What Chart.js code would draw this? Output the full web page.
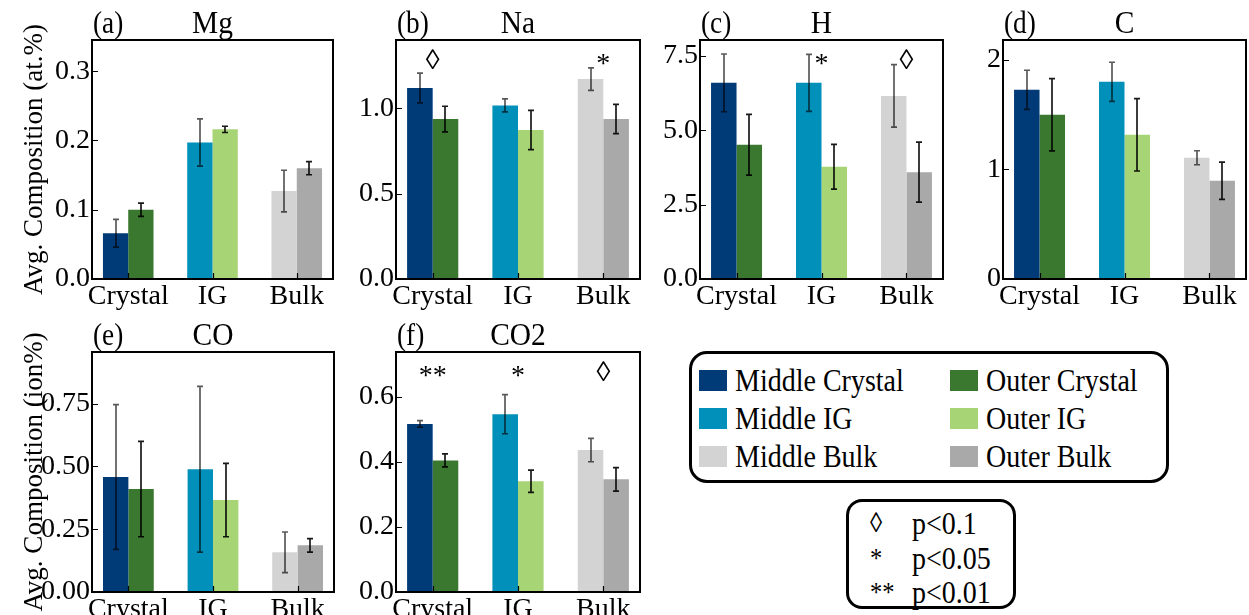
<!DOCTYPE html>
<html>
<head>
<meta charset="utf-8">
<script src="https://cdn.jsdelivr.net/npm/chart.js@4.4.1/dist/chart.umd.min.js"></script>
<style>
  body { margin: 0; background: #fff; width: 1249px; height: 615px; overflow: hidden; position: relative; font-family: "Liberation Serif", "Times New Roman", serif; }
  canvas { position: absolute; }
  .box { position: absolute; border: 3px solid #000; background: #fff; }
  .item { position: absolute; height: 36px; line-height: 36px; font-size: 32px; white-space: nowrap; color: #000; transform: scaleX(0.875); transform-origin: 0 50%; }
  .sw { position: absolute; width: 28px; height: 21px; }
</style>
</head>
<body>
<canvas id="pa" width="340" height="310" style="left:0;top:0"></canvas>
<canvas id="pb" width="308" height="310" style="left:340px;top:0"></canvas>
<canvas id="pc" width="299" height="310" style="left:650px;top:0"></canvas>
<canvas id="pd" width="300" height="310" style="left:949px;top:0"></canvas>
<canvas id="pe" width="340" height="305" style="left:0;top:310px"></canvas>
<canvas id="pf" width="308" height="305" style="left:340px;top:310px"></canvas>
<div class="box" id="legend" style="left:689px;top:351px;width:474px;height:126px;border-radius:18px"></div>
<div class="box" id="sigbox" style="left:846px;top:499px;width:164px;height:104px;border-radius:16px"></div>
<script>
// categories and series
const categories = ['Crystal', 'IG', 'Bulk'];
const seriesNames = ['Middle Crystal', 'Outer Crystal', 'Middle IG', 'Outer IG', 'Middle Bulk', 'Outer Bulk'];
const middleColors = ['#003a77', '#0090b9', '#d3d3d3'];
const outerColors = ['#3a7830', '#a7d475', '#a9a9a9'];

// (a) Mg
const mgMiddle = [0.066, 0.197, 0.127];
const mgMiddleErr = [0.020, 0.034, 0.030];
const mgOuter = [0.100, 0.216, 0.160];
const mgOuterErr = [0.0095, 0.0045, 0.0095];
const mgTicks = [0, 0.1, 0.2, 0.3];
const mgTickLabels = ['0.0', '0.1', '0.2', '0.3'];

// (b) Na
const naMiddle = [1.119, 1.017, 1.171];
const naMiddleErr = [0.087, 0.038, 0.066];
const naOuter = [0.937, 0.873, 0.937];
const naOuterErr = [0.075, 0.115, 0.086];
const naTicks = [0, 0.5, 1.0];
const naTickLabels = ['0.0', '0.5', '1.0'];
const naMarks = ['◊', '', '*'];

// (c) H
const hMiddle = [6.59, 6.59, 6.15];
const hMiddleErr = [0.97, 0.96, 1.05];
const hOuter = [4.51, 3.77, 3.59];
const hOuterErr = [1.02, 0.75, 1.01];
const hTicks = [0, 2.5, 5.0, 7.5];
const hTickLabels = ['0.0', '2.5', '5.0', '7.5'];
const hMarks = ['', '*', '◊'];

// (d) C
const cMiddle = [1.726, 1.799, 1.106];
const cMiddleErr = [0.178, 0.178, 0.064];
const cOuter = [1.498, 1.315, 0.896];
const cOuterErr = [0.33, 0.33, 0.17];
const cTicks = [0, 1, 2];
const cTickLabels = ['0', '1', '2'];

// (e) CO
const coMiddle = [0.458, 0.489, 0.158];
const coMiddleErr = [0.288, 0.33, 0.081];
const coOuter = [0.410, 0.366, 0.186];
const coOuterErr = [0.19, 0.146, 0.027];
const coTicks = [0, 0.25, 0.5, 0.75];
const coTickLabels = ['0.00', '0.25', '0.50', '0.75'];

// (f) CO2
const co2Middle = [0.516, 0.546, 0.436];
const co2MiddleErr = [0.010, 0.060, 0.036];
const co2Outer = [0.404, 0.340, 0.346];
const co2OuterErr = [0.020, 0.034, 0.036];
const co2Ticks = [0, 0.2, 0.4, 0.6];
const co2TickLabels = ['0.0', '0.2', '0.4', '0.6'];
const co2Marks = ['**', '*', '◊'];

// significance legend
const sigSymbols = ['◊', '*', '**'];
const sigLabels = ['p<0.1', 'p<0.05', 'p<0.01'];

const FONT = '"Liberation Serif", "Times New Roman", serif';
const TICK_SIZE = 28;

// text a bit narrower than the font's own width, like the reference
function narrowText(ctx, s, x, y, sx) {
  ctx.save();
  ctx.translate(x, y);
  ctx.scale(sx, 1);
  ctx.fillText(s, 0, 0);
  ctx.restore();
}

// draws error bars, frame, inward ticks, titles and significance marks
const decor = {
  id: 'decor',
  afterDatasetsDraw(chart) {
    const ctx = chart.ctx, ys = chart.scales.y;
    chart.data.datasets.forEach((ds, di) => {
      const meta = chart.getDatasetMeta(di);
      ctx.save();
      ctx.strokeStyle = ds.errColor;
      ctx.lineWidth = 1.7;
      meta.data.forEach((bar, i) => {
        const v = ds.data[i].y, e = ds.errors[i];
        const x = Math.round(bar.x);
        const y1 = ys.getPixelForValue(v + e), y2 = ys.getPixelForValue(v - e);
        ctx.beginPath();
        ctx.moveTo(x, y1); ctx.lineTo(x, y2);
        ctx.moveTo(x - 3, y1); ctx.lineTo(x + 3, y1);
        ctx.moveTo(x - 3, y2); ctx.lineTo(x + 3, y2);
        ctx.stroke();
      });
      ctx.restore();
    });
  },
  afterDraw(chart, args, opts) {
    const ctx = chart.ctx, ca = chart.chartArea, xs = chart.scales.x, ys = chart.scales.y;
    ctx.save();
    ctx.strokeStyle = '#000';
    ctx.lineWidth = 1.2;
    ctx.beginPath();
    ys.ticks.forEach(t => {
      const y = Math.round(ys.getPixelForValue(t.value)) + 0.5;
      ctx.moveTo(ca.left, y); ctx.lineTo(ca.left + 6, y);
    });
    xs.ticks.forEach(t => {
      const x = Math.round(xs.getPixelForValue(t.value)) + 0.5;
      ctx.moveTo(x, ca.bottom); ctx.lineTo(x, ca.bottom - 6);
    });
    ctx.stroke();
    ctx.lineWidth = 2;
    ctx.strokeRect(ca.left, ca.top, ca.right - ca.left, ca.bottom - ca.top);

    ctx.fillStyle = '#000';
    ctx.font = '31px ' + FONT;
    ctx.textBaseline = 'alphabetic';
    ctx.textAlign = 'left';
    narrowText(ctx, opts.tag, ca.left + 1, ca.top - 7, 0.88);
    ctx.textAlign = 'center';
    narrowText(ctx, opts.title, (ca.left + ca.right) / 2, ca.top - 7, 0.95);

    ctx.font = '28px ' + FONT;
    (opts.marks || []).forEach((m, i) => {
      if (!m) return;
      const mt = ctx.measureText(m);
      const yc = ca.top + 19;
      const base = yc + (mt.actualBoundingBoxAscent - mt.actualBoundingBoxDescent) / 2;
      ctx.fillText(m, xs.getPixelForValue(i), base);
    });
    ctx.restore();
  }
};

function makePanel(id, cfg) {
  const toPts = arr => arr.map((v, i) => ({ x: i, y: v }));
  new Chart(document.getElementById(id), {
    type: 'bar',
    data: {
      datasets: [
        { label: 'Middle', data: toPts(cfg.middle), errors: cfg.middleErr, backgroundColor: middleColors, errColor: 'rgba(0,0,0,0.65)' },
        { label: 'Outer', data: toPts(cfg.outer), errors: cfg.outerErr, backgroundColor: outerColors, errColor: 'rgba(0,0,0,0.9)' }
      ]
    },
    options: {
      responsive: false,
      animation: false,
      devicePixelRatio: 1,
      categoryPercentage: 0.6,
      barPercentage: 1.0,
      layout: { padding: { top: cfg.top, right: cfg.right, left: 0, bottom: 0 } },
      plugins: {
        legend: { display: false },
        tooltip: { enabled: false },
        decor: { tag: cfg.tag, title: cfg.title, marks: cfg.marks }
      },
      scales: {
        x: {
          type: 'linear',
          min: -0.43,
          max: 2.43,
          offset: false,
          bounds: 'data',
          grid: { display: false, drawTicks: false, offset: false },
          border: { display: false },
          afterBuildTicks: s => { s.ticks = categories.map((c, i) => ({ value: i })); },
          afterFit: s => { s.height = cfg.xh; },
          ticks: {
            padding: 1,
            autoSkip: false,
            color: '#000',
            font: { family: FONT, size: TICK_SIZE },
            maxRotation: 0,
            callback: v => categories[v]
          }
        },
        y: {
          min: 0,
          max: cfg.ymax,
          bounds: 'data',
          grid: { display: false, drawTicks: false },
          border: { display: false },
          afterBuildTicks: s => { s.ticks = cfg.ticks.map(v => ({ value: v })); },
          afterFit: s => { s.width = cfg.yw; },
          title: cfg.ytitle ? {
            display: true, text: cfg.ytitle, color: '#000',
            font: { family: FONT, size: 27 }, padding: { top: 19, bottom: 0 }
          } : { display: false },
          ticks: {
            padding: 2,
            color: '#000',
            font: { family: FONT, size: TICK_SIZE },
            callback: (v, i) => cfg.tickLabels[i]
          }
        }
      }
    },
    plugins: [decor]
  });
}

makePanel('pa', { tag: '(a)', title: 'Mg', middle: mgMiddle, middleErr: mgMiddleErr, outer: mgOuter, outerErr: mgOuterErr,
  ymax: 0.345, ticks: mgTicks, tickLabels: mgTickLabels, yw: 92, xh: 31, top: 40, right: 7, ytitle: 'Avg. Composition (at.%)' });
makePanel('pb', { tag: '(b)', title: 'Na', middle: naMiddle, middleErr: naMiddleErr, outer: naOuter, outerErr: naOuterErr,
  ymax: 1.40, ticks: naTicks, tickLabels: naTickLabels, yw: 56, xh: 31, top: 40, right: 8, marks: naMarks });
makePanel('pc', { tag: '(c)', title: 'H', middle: hMiddle, middleErr: hMiddleErr, outer: hOuter, outerErr: hOuterErr,
  ymax: 8.03, ticks: hTicks, tickLabels: hTickLabels, yw: 50, xh: 31, top: 40, right: 6, marks: hMarks });
makePanel('pd', { tag: '(d)', title: 'C', middle: cMiddle, middleErr: cMiddleErr, outer: cOuter, outerErr: cOuterErr,
  ymax: 2.18, ticks: cTicks, tickLabels: cTickLabels, yw: 54, xh: 31, top: 40, right: 3 });
makePanel('pe', { tag: '(e)', title: 'CO', middle: coMiddle, middleErr: coMiddleErr, outer: coOuter, outerErr: coOuterErr,
  ymax: 0.956, ticks: coTicks, tickLabels: coTickLabels, yw: 92, xh: 23, top: 42, right: 6, ytitle: 'Avg. Composition (ion%)' });
makePanel('pf', { tag: '(f)', title: 'CO2', middle: co2Middle, middleErr: co2MiddleErr, outer: co2Outer, outerErr: co2OuterErr,
  ymax: 0.737, ticks: co2Ticks, tickLabels: co2TickLabels, yw: 56, xh: 23, top: 42, right: 8, marks: co2Marks });

// series legend (two columns: middle / outer)
const legend = document.getElementById('legend');
seriesNames.forEach((name, i) => {
  const col = i % 2, row = Math.floor(i / 2);
  const color = col === 0 ? middleColors[row] : outerColors[row];
  const cy = 26 + row * 38;
  const sw = document.createElement('div');
  sw.className = 'sw';
  sw.style.left = (7 + col * 251) + 'px';
  sw.style.top = (cy - 10) + 'px';
  sw.style.background = color;
  legend.appendChild(sw);
  const t = document.createElement('div');
  t.className = 'item';
  t.style.left = (43 + col * 251) + 'px';
  t.style.top = (cy - 18) + 'px';
  t.textContent = name;
  legend.appendChild(t);
});

// significance key
const sig = document.getElementById('sigbox');
sigSymbols.forEach((s, i) => {
  const cy = 21 + i * 34.5;
  const a = document.createElement('div');
  a.className = 'item';
  a.style.left = '21px';
  a.style.top = (cy - 18) + 'px';
  a.style.fontSize = '28px';
  a.textContent = s;
  sig.appendChild(a);
  const b = document.createElement('div');
  b.className = 'item';
  b.style.left = '63px';
  b.style.top = (cy - 18) + 'px';
  b.textContent = sigLabels[i];
  sig.appendChild(b);
});
</script>
</body>
</html>
